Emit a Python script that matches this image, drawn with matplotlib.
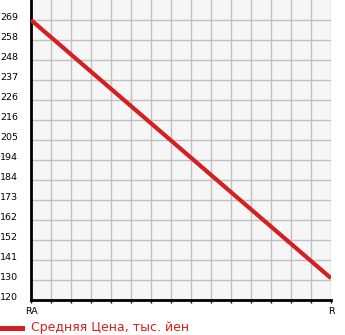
import numpy as np
import matplotlib
matplotlib.use("Agg")
import matplotlib.pyplot as plt
import matplotlib.transforms as mtransforms

# data
models = ["RA", "R"]
avg_price = [269, 131.6]
y_labels = ["120", "130", "141", "152", "162", "173", "184", "194",
            "205", "216", "226", "237", "248", "258", "269"]
legend_label = "Средняя Цена, тыс. йен"

red = "#d42020"
y_lo, y_hi = 120, 269
y_step = (y_hi - y_lo) / 14

fig = plt.figure(figsize=(3.45, 3.35), dpi=100)
ax = fig.add_axes([31 / 345, 35 / 335, 300 / 345, 300 / 335])
ax.set_facecolor("#f6f6f6")

x = np.arange(len(models))
ax.plot(x, avg_price, color=red, lw=3, solid_capstyle="butt", zorder=3)

ax.set_xlim(0, len(models) - 1)
ax.set_ylim(y_lo, y_lo + 15 * y_step)

yt = [y_lo + i * y_step for i in range(len(y_labels))]
ax.set_yticks(yt)
ax.set_yticklabels(y_labels, fontsize=6.8)
ax.tick_params(axis="y", length=0, pad=9.3)
offset = mtransforms.ScaledTranslation(0, 3 / 100, fig.dpi_scale_trans)
for lab in ax.get_yticklabels():
    lab.set_transform(lab.get_transform() + offset)

xt = np.linspace(0, len(models) - 1, 16)
ax.set_xticks(xt)
ax.set_xticklabels([models[0]] + [""] * 14 + [models[1]], fontsize=6.8)
ax.tick_params(axis="x", length=2.2, width=1, direction="out", pad=2.5)

ax.grid(True, color="#c0c0c0", lw=1)
for s in ["top", "right"]:
    ax.spines[s].set_visible(False)
for s in ["left", "bottom"]:
    ax.spines[s].set_linewidth(2)
    ax.spines[s].set_color("black")

# legend below plot
fig.lines.append(plt.Line2D([0, 22 / 345], [7 / 335, 7 / 335], color=red,
                            lw=3.6, transform=fig.transFigure))
fig.text(31 / 345, 7 / 335, legend_label, color=red, fontsize=9,
         va="center", ha="left")

fig.savefig("out.png", dpi=100)
